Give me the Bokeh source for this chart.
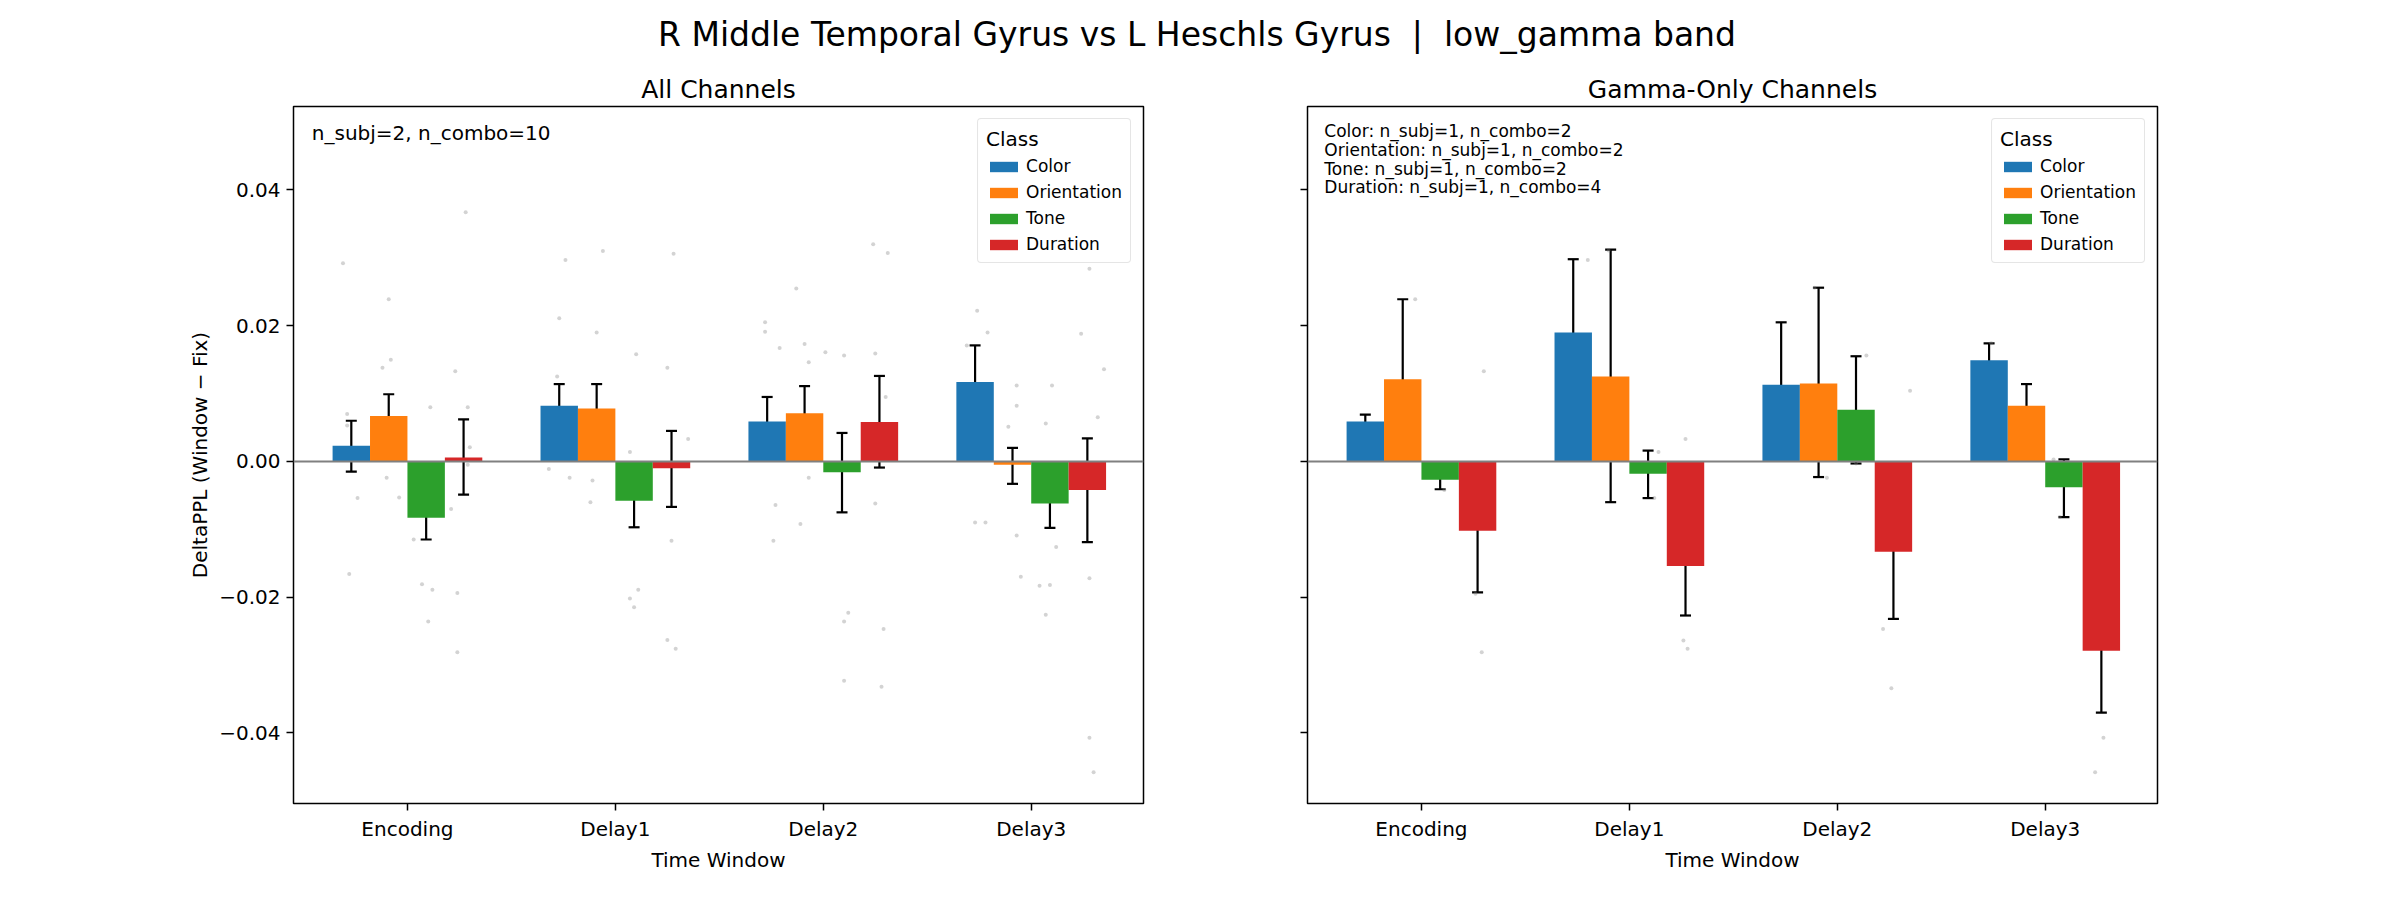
from bokeh.embed import file_html
from bokeh.layouts import column, row
from bokeh.models import (ColumnDataSource, Div, FixedTicker, Label, Legend,
                          LegendItem, Range1d, Span, TeeHead, Whisker)
from bokeh.plotting import figure
from bokeh.resources import INLINE

FONT = "DejaVu Sans"

windows = ["Encoding", "Delay1", "Delay2", "Delay3"]
classes = ["Color", "Orientation", "Tone", "Duration"]
colors = ["#1f77b4", "#ff7f0e", "#2ca02c", "#d62728"]
offsets = [-0.27, -0.09, 0.09, 0.27]

# All channels: mean, error-bar upper, error-bar lower (per class, per window)
all_mean = {
    "Color": [0.0023, 0.0082, 0.0059, 0.0117],
    "Orientation": [0.0067, 0.0078, 0.0071, -0.0005],
    "Tone": [-0.0083, -0.0058, -0.0016, -0.0062],
    "Duration": [0.0006, -0.0010, 0.0058, -0.0042],
}
all_hi = {
    "Color": [0.0060, 0.0114, 0.0095, 0.0171],
    "Orientation": [0.0099, 0.0114, 0.0111, 0.0020],
    "Tone": [-0.0054, -0.0020, 0.0042, -0.0025],
    "Duration": [0.0062, 0.0045, 0.0126, 0.0034],
}
all_lo = {
    "Color": [-0.0015, 0.0049, 0.0025, 0.0065],
    "Orientation": [0.0037, 0.0042, 0.0031, -0.0033],
    "Tone": [-0.0115, -0.0097, -0.0075, -0.0098],
    "Duration": [-0.0049, -0.0067, -0.0009, -0.0119],
}

# Gamma-only channels
gam_mean = {
    "Color": [0.0059, 0.0190, 0.0113, 0.0149],
    "Orientation": [0.0121, 0.0125, 0.0115, 0.0082],
    "Tone": [-0.0027, -0.0018, 0.0076, -0.0038],
    "Duration": [-0.0102, -0.0154, -0.0133, -0.0279],
}
gam_hi = {
    "Color": [0.0069, 0.0298, 0.0205, 0.0174],
    "Orientation": [0.0239, 0.0312, 0.0256, 0.0114],
    "Tone": [-0.0014, 0.0016, 0.0155, 0.0003],
    "Duration": [-0.0013, -0.0082, -0.0037, -0.0189],
}
gam_lo = {
    "Color": [0.0052, 0.0082, 0.0020, 0.0128],
    "Orientation": [0.0003, -0.0060, -0.0023, 0.0051],
    "Tone": [-0.0041, -0.0054, -0.0003, -0.0082],
    "Duration": [-0.0193, -0.0227, -0.0232, -0.0370],
}

# individual combo points (window index, jittered offset, value)
all_dot_win = [0] * 24 + [1] * 20 + [2] * 22 + [3] * 24
all_dot_off = [-0.31, -0.28, -0.29, -0.29, -0.24, -0.09, -0.12, -0.08, -0.10, -0.11, -0.04, 0.11,
               0.03, 0.07, 0.12, 0.10, 0.23, 0.24, 0.24, 0.28, 0.29, 0.30, 0.21, 0.29,
               -0.27, -0.24, -0.28, -0.32, -0.22, -0.06, -0.09, -0.11, -0.12, 0.10, 0.07, 0.11,
               0.09, 0.07, 0.25, 0.28, 0.27, 0.25, 0.29, 0.35,
               -0.28, -0.28, -0.21, -0.24, -0.23, -0.13, -0.09, -0.07, -0.07, -0.11, 0.10, 0.01,
               0.10, 0.10, 0.12, 0.24, 0.31, 0.25, 0.28, 0.29, 0.25, 0.30,
               -0.26, -0.21, -0.31, -0.27, -0.22, -0.29, -0.07, -0.07, -0.11, -0.05, -0.07, 0.10,
               0.07, 0.04, 0.09, 0.07, 0.12, 0.28, 0.24, 0.32, 0.35, 0.28, 0.28, 0.30]
all_dot_val = [0.0292, -0.0166, 0.0070, 0.0053, -0.0054, 0.0239, 0.0138, 0.0150, -0.0024, 0.0002,
               -0.0053, 0.0080, -0.0115, -0.0181, -0.0189, -0.0236, 0.0133, -0.0194, -0.0281, 0.0367,
               0.0080, 0.0021, -0.0070, -0.0005,
               0.0211, 0.0297, 0.0125, -0.0011, -0.0024, 0.0310, 0.0190, -0.0028, -0.0060, 0.0158,
               0.0014, -0.0189, -0.0215, -0.0202, 0.0138, 0.0306, -0.0117, -0.0263, -0.0276, 0.0033,
               0.0205, 0.0191, 0.0167, -0.0117, -0.0064, 0.0255, 0.0173, 0.0146, -0.0024, -0.0092,
               0.0156, 0.0161, -0.0236, -0.0323, -0.0223, 0.0320, 0.0307, 0.0159, -0.0332, -0.0247,
               -0.0062, 0.0095,
               0.0222, 0.0190, 0.0171, -0.0090, -0.0090, 0.0037, 0.0112, 0.0082, 0.0051, -0.0170,
               -0.0109, 0.0112, 0.0056, -0.0183, -0.0182, -0.0226, -0.0126, 0.0284, 0.0188, 0.0065,
               0.0136, -0.0172, -0.0407, -0.0458]

gam_dot_win = [0] * 6 + [1] * 9 + [2] * 8 + [3] * 9
gam_dot_off = [-0.03, 0.30, 0.30, 0.26, 0.29, 0.11,
               -0.20, -0.30, -0.10, 0.14, 0.12, 0.27, 0.26, 0.28, 0.27,
               -0.21, -0.11, -0.05, 0.14, 0.09, 0.35, 0.22, 0.26,
               -0.26, -0.26, -0.05, 0.04, 0.07, 0.34, 0.24, 0.28, 0.24]
gam_dot_val = [0.0239, 0.0133, -0.0070, -0.0195, -0.0281, -0.0042,
               0.0297, 0.0081, 0.0311, 0.0014, -0.0054, 0.0033, -0.0264, -0.0276, -0.0117,
               0.0020, 0.0256, -0.0024, 0.0156, -0.0003, 0.0104, -0.0247, -0.0334,
               0.0174, 0.0129, 0.0051, 0.0003, -0.0082, -0.0083, -0.0172, -0.0407, -0.0458]

y_ticks = [-0.04, -0.02, 0.0, 0.02, 0.04]


def make_panel(title, mean, hi, lo, dot_win, dot_off, dot_val, left_labels, width, left_border, right_border):
    p = figure(width=width, height=829, output_backend="svg", toolbar_location=None,
               x_range=Range1d(-0.548, 3.54), y_range=Range1d(-0.0504, 0.0523),
               min_border_left=left_border, min_border_right=right_border,
               min_border_top=41, min_border_bottom=91)
    p.title.text = title
    p.title.align = "center"
    p.title.text_font = FONT
    p.title.text_font_size = "25px"
    p.title.text_font_style = "normal"
    p.title.text_color = "black"
    p.title.standoff = 6
    p.grid.visible = False
    p.outline_line_color = "black"
    p.outline_line_width = 1.5
    p.outline_line_alpha = 1

    # scatter of individual combos
    p.scatter([w + o for w, o in zip(dot_win, dot_off)], dot_val, size=4,
              color="gray", alpha=0.35, line_color=None)

    items = []
    for cls, col, off in zip(classes, colors, offsets):
        xs = [i + off for i in range(len(windows))]
        src = ColumnDataSource(dict(x=xs, top=mean[cls], hi=hi[cls], lo=lo[cls]))
        r = p.vbar(x="x", top="top", bottom=0, width=0.18, source=src,
                   fill_color=col, line_color=None)
        items.append(LegendItem(label=cls, renderers=[r]))
        p.add_layout(Whisker(source=src, base="x", upper="hi", lower="lo",
                             line_color="black", line_width=2.2,
                             upper_head=TeeHead(size=11, line_width=2.2, line_color="black"),
                             lower_head=TeeHead(size=11, line_width=2.2, line_color="black")))

    p.add_layout(Span(location=0, dimension="width", line_color="gray", line_width=2))

    legend = Legend(items=items, location="top_right", title="Class")
    legend.title_text_font = FONT
    legend.title_text_font_size = "20px"
    legend.title_text_font_style = "normal"
    legend.title_text_color = "black"
    legend.label_text_font = FONT
    legend.label_text_font_size = "17px"
    legend.label_text_color = "black"
    legend.glyph_width = 35
    legend.glyph_height = 13
    legend.label_height = 17
    legend.spacing = 6
    legend.padding = 8
    legend.margin = 12
    legend.border_line_color = "#cccccc"
    legend.border_line_width = 1.5
    legend.border_radius = 4
    p.add_layout(legend)

    p.xaxis.ticker = FixedTicker(ticks=list(range(len(windows))))
    p.xaxis.major_label_overrides = {i: w for i, w in enumerate(windows)}
    p.xaxis.axis_label = "Time Window"
    p.yaxis.ticker = FixedTicker(ticks=y_ticks)
    p.yaxis.major_label_overrides = {t: f"{t:.2f}".replace("-", "\u2212") for t in y_ticks}
    for ax in (p.xaxis, p.yaxis):
        ax.axis_line_color = None
        ax.major_tick_out = 7
        ax.major_tick_in = 0
        ax.major_tick_line_width = 1.5
        ax.major_tick_line_color = "black"
        ax.minor_tick_line_color = None
        ax.major_label_text_font = FONT
        ax.major_label_text_font_size = "20px"
        ax.major_label_text_color = "black"
        ax.axis_label_text_font = FONT
        ax.axis_label_text_font_size = "20px"
        ax.axis_label_text_font_style = "normal"
        ax.axis_label_text_color = "black"
        ax.major_label_standoff = 6
        ax.axis_label_standoff = 4
    if left_labels:
        p.yaxis.axis_label = "DeltaPPL (Window \u2212 Fix)"
    else:
        p.yaxis.major_label_text_color = None
    return p


p1 = make_panel("All Channels", all_mean, all_hi, all_lo,
                all_dot_win, all_dot_off, all_dot_val, True, 1267, 293, 124)
p1.add_layout(Label(x=-0.46, y=0.0501, text="n_subj=2, n_combo=10", text_font=FONT,
                    text_font_size="20px", text_baseline="top", text_color="black"))

p2 = make_panel("Gamma-Only Channels", gam_mean, gam_hi, gam_lo,
                gam_dot_win, gam_dot_off, gam_dot_val, False, 990, 40, 100)
gam_notes = ["Color: n_subj=1, n_combo=2", "Orientation: n_subj=1, n_combo=2",
             "Tone: n_subj=1, n_combo=2", "Duration: n_subj=1, n_combo=4"]
for k, txt in enumerate(gam_notes):
    p2.add_layout(Label(x=-0.467, y=0.0501 - k * 0.00275, text=txt, text_font=FONT,
                        text_font_size="17px", text_baseline="top", text_color="black"))

title = Div(text="R Middle Temporal Gyrus vs L Heschls Gyrus&nbsp; |&nbsp; low_gamma band",
            width=2384, height=55,
            styles={"text-align": "center", "font-size": "33px", "font-family": FONT,
                    "padding-top": "6px", "color": "black"})

layout = column(title, row(p1, p2))
open("out.html", "w").write(file_html(layout, INLINE))
